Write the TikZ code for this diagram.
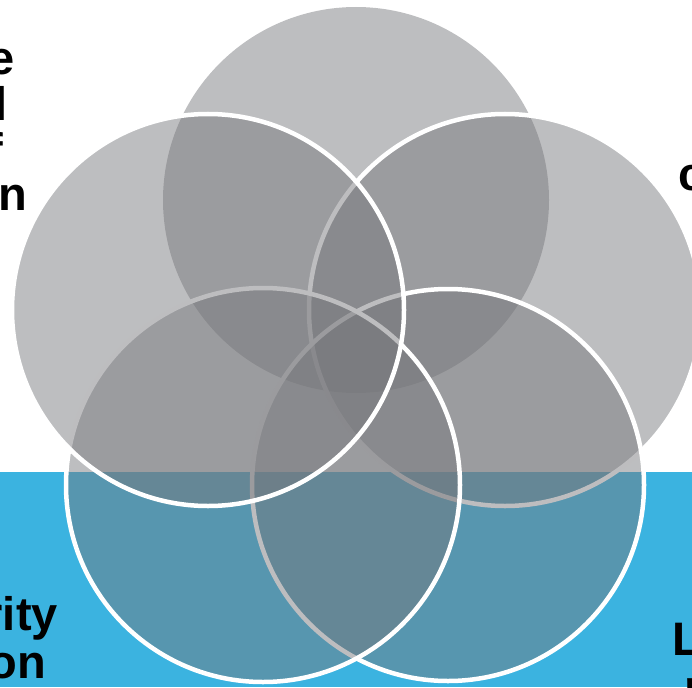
\documentclass[tikz,border=0pt]{standalone}
\usepackage{fontspec}
\setmainfont{Liberation Sans}
\begin{document}
\definecolor{bandblue}{RGB}{59,179,224}
\definecolor{discgray}{RGB}{118,119,123}
\begin{tikzpicture}[x=1pt,y=-1pt,
  disc/.style={fill=discgray,fill opacity=0.48},
  ring/.style={disc,draw=white,draw opacity=1,line width=4.5pt},
  label/.style={inner sep=0pt,font=\fontsize{47}{47}\selectfont\bfseries,text=black}]
\useasboundingbox (0,0) rectangle (692,687);
\clip (0,0) rectangle (692,687);
% blue band along the bottom
\fill[bandblue] (0,472) rectangle (692,687);
% five overlapping discs, the later ones on top
\fill[disc] (356,200) circle (193);
\path[ring] (505,310) circle (196);
\path[ring] (448,485) circle (196);
\path[ring] (263,485) circle (197);
\path[ring] (208,310) circle (196);
% labels running off the edges
\node[label,anchor=base east] (tl1) at (15,75) {e};
\node[label,anchor=base east] (tl2) at (8,121) {l};
\node[label,anchor=base east] (tl3) at (3,166) {f};
\node[label,anchor=base east] (tl4) at (27,210) {on};
\node[label,anchor=base west] (r1) at (678,190) {c};
\node[label,anchor=base east] (bl1) at (58,630) {rity};
\node[label,anchor=base east] (bl2) at (46,678) {on};
\node[label,anchor=base west] (br1) at (672,655) {L};
\node[label,anchor=base west] (br2) at (684,703) {n};
\end{tikzpicture}
\end{document}
